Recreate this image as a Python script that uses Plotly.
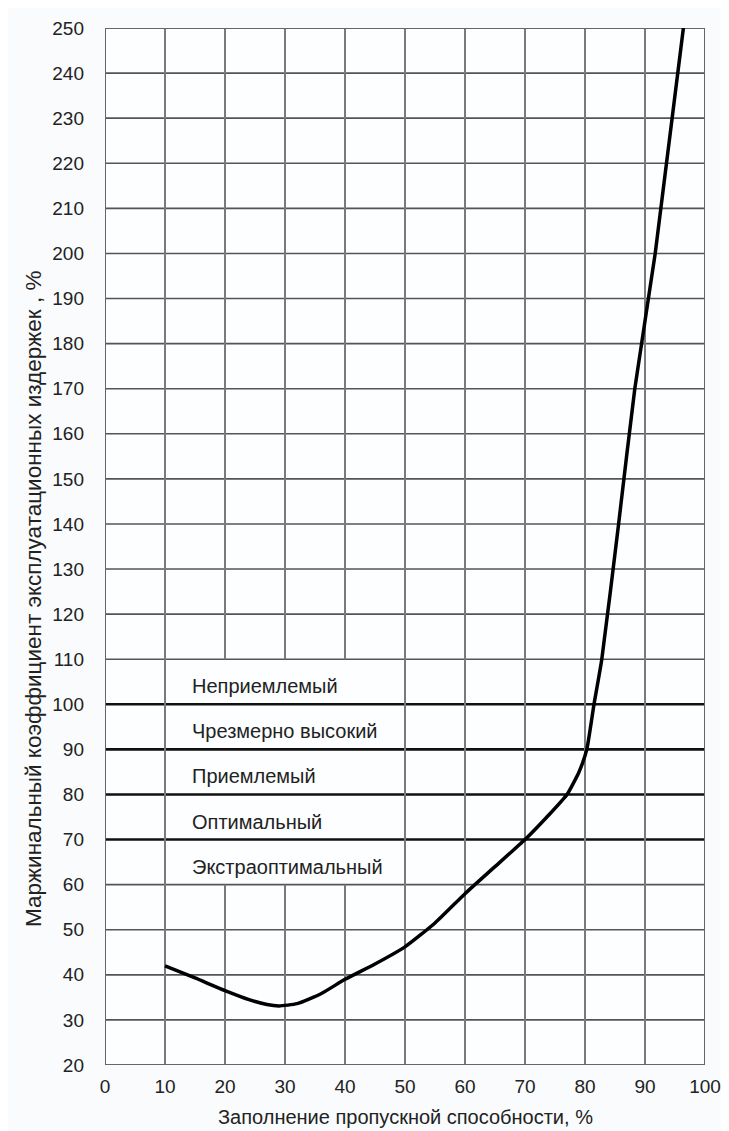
import plotly.graph_objects as go

# ---- data ----
fill_pct = [10, 15, 20, 24, 27, 29, 32, 36, 40, 45, 50, 55, 60, 65, 70, 74, 77, 79, 80.3, 81.5, 82.8, 85.6, 88.3, 91.7, 96.4]
cost_coef = [42, 39.3, 36.5, 34.5, 33.4, 33.1, 33.6, 35.8, 39, 42.4, 46.2, 51.5, 58, 64, 70, 75.5, 80, 85, 90, 100, 110, 140, 170, 200, 250]

x_ticks = [0, 10, 20, 30, 40, 50, 60, 70, 80, 90, 100]
y_ticks = list(range(20, 251, 10))
zone_bounds = [70, 80, 90, 100]
zone_labels = ["Экстраоптимальный", "Оптимальный", "Приемлемый", "Чрезмерно высокий", "Неприемлемый"]
zone_label_y = [64, 74, 84, 94, 104]
gap_columns = [20, 30, 40]   # vertical grid lines interrupted behind zone labels
gap_range = [60, 110]

X_MIN, X_MAX, Y_MIN, Y_MAX = 0, 100, 20, 250
FONT = "Liberation Sans, Arial, sans-serif"
TXT = "#222222"

# page body has an 8px margin, so the figure is sized to fit within the window
OFF = 8
W, H = 729 - OFF, 1131 - OFF
ML, MR, MT, MB = 105 - OFF, 24, 28 - OFF, 66
PW, PH = W - ML - MR, H - MT - MB


def px_to_paper_x(px):
    return (px - OFF - ML) / PW


def px_to_paper_y(py):
    return (MT + PH - (py - OFF)) / PH


shapes = []
# horizontal grid lines
for yv in y_ticks:
    if yv in (Y_MIN, Y_MAX):
        continue
    if yv in zone_bounds:
        col, w = "#111111", 2.6
    else:
        col, w = "#555555", 1.6
    shapes.append(dict(type="line", xref="x", yref="y", x0=X_MIN, x1=X_MAX, y0=yv, y1=yv,
                       line=dict(color=col, width=w), layer="below"))
# vertical grid lines
for xv in x_ticks:
    if xv in (X_MIN, X_MAX):
        continue
    segs = [(Y_MIN, gap_range[0]), (gap_range[1], Y_MAX)] if xv in gap_columns else [(Y_MIN, Y_MAX)]
    for a, b in segs:
        shapes.append(dict(type="line", xref="x", yref="y", x0=xv, x1=xv, y0=a, y1=b,
                           line=dict(color="#7a7a7a", width=2), layer="below"))
# frame
shapes.append(dict(type="rect", xref="x", yref="y", x0=X_MIN, x1=X_MAX, y0=Y_MIN, y1=Y_MAX,
                   line=dict(color="#666666", width=2), layer="below"))

fig = go.Figure()
fig.add_trace(go.Scatter(x=fill_pct, y=cost_coef, mode="lines",
                         line=dict(color="#000000", width=3.5, shape="spline", smoothing=0.5),
                         showlegend=False, hoverinfo="skip"))

annotations = []
for lbl, yv in zip(zone_labels, zone_label_y):
    annotations.append(dict(x=14.2, y=yv, xref="x", yref="y", text=lbl, showarrow=False,
                            xanchor="left", yanchor="middle",
                            font=dict(family=FONT, size=20, color=TXT)))
annotations.append(dict(x=px_to_paper_x(33), y=px_to_paper_y(599), xref="paper", yref="paper",
                        text="Маржинальный коэффициент эксплуатационных издержек , %",
                        showarrow=False, textangle=-90, xanchor="center", yanchor="middle",
                        font=dict(family=FONT, size=22.5, color=TXT)))
annotations.append(dict(x=px_to_paper_x(405), y=px_to_paper_y(1117), xref="paper", yref="paper",
                        text="Заполнение пропускной способности, %",
                        showarrow=False, xanchor="center", yanchor="middle",
                        font=dict(family=FONT, size=20, color=TXT)))

fig.update_layout(
    width=W, height=H,
    margin=dict(l=ML, r=MR, t=MT, b=MB, autoexpand=False),
    paper_bgcolor="#f9fbfc", plot_bgcolor="#fdfeff",
    shapes=shapes, annotations=annotations,
    xaxis=dict(range=[X_MIN, X_MAX], tickvals=x_ticks, showgrid=False, zeroline=False,
               ticks="", showline=False, ticklabelstandoff=8, automargin=False,
               tickfont=dict(family=FONT, size=19, color=TXT)),
    yaxis=dict(range=[Y_MIN, Y_MAX], tickvals=y_ticks, showgrid=False, zeroline=False,
               ticks="", showline=False, ticklabelstandoff=20, automargin=False,
               tickfont=dict(family=FONT, size=19, color=TXT)),
)

fig.write_html("out.html")
